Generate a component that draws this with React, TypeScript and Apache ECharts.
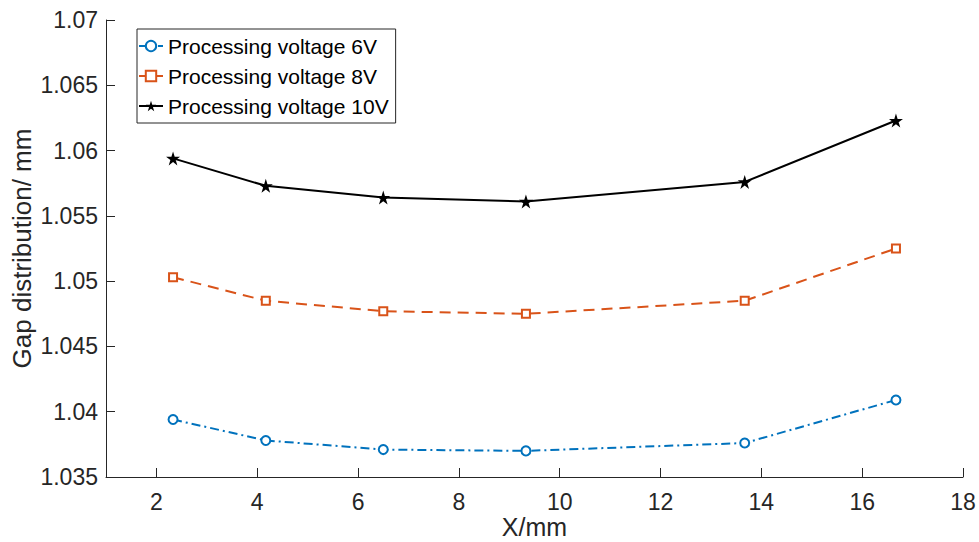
import React, { useEffect, useRef } from "react";
import * as echarts from "echarts";

const xValues = [2.33, 4.17, 6.5, 9.33, 13.67, 16.67];
const v6 = [1.0394, 1.0378, 1.0371, 1.037, 1.0376, 1.0409];
const v8 = [1.0503, 1.0485, 1.0477, 1.0475, 1.0485, 1.0525];
const v10 = [1.0594, 1.0573, 1.0564, 1.0561, 1.0576, 1.0623];
const seriesNames = ["Processing voltage 6V", "Processing voltage 8V", "Processing voltage 10V"];
const xTicks = [2, 4, 6, 8, 10, 12, 14, 16, 18];

const STAR =
  "path://M50 0 L61.23 34.55 L97.55 34.55 L68.16 55.9 L79.39 90.45 L50 69.1 L20.61 90.45 L31.84 55.9 L2.45 34.55 L38.77 34.55 Z";

const FONT = "'Liberation Sans', Arial, Helvetica, sans-serif";
const AX = "#262626";

export default function App() {
  const ref = useRef<HTMLDivElement>(null);
  useEffect(() => {
    if (!ref.current) return;
    const chart = echarts.init(ref.current, undefined, { renderer: "svg" });
    const pair = (ys: number[]) => xValues.map((x, i) => [x, ys[i]]);
    chart.setOption({
      animation: false,
      backgroundColor: "#ffffff",
      textStyle: { fontFamily: FONT },
      grid: { left: 106, right: 16, top: 20, bottom: 65, containLabel: false, outerBoundsMode: "none" },
      legend: {
        orient: "vertical",
        left: 137,
        top: 29,
        padding: [6, 7, 6, 1],
        itemGap: 8,
        itemWidth: 24,
        itemHeight: 13,
        itemTextGap: 3,
        borderColor: AX,
        borderWidth: 1,
        backgroundColor: "#ffffff",
        textStyle: { fontSize: 21, color: "#000000", fontFamily: FONT, lineHeight: 22 },
        data: seriesNames,
      },
      xAxis: {
        type: "value",
        min: 1,
        max: 18,
        name: "X/mm",
        nameLocation: "middle",
        nameGap: 37,
        nameMoveOverlap: false,
        nameTextStyle: { fontSize: 25, color: AX, fontFamily: FONT, lineHeight: 26 },
        axisLine: { show: true, lineStyle: { color: AX, width: 1 } },
        axisTick: { show: true, inside: true, length: 9, lineStyle: { color: AX }, customValues: xTicks },
        axisLabel: { fontSize: 23, color: AX, margin: 13, fontFamily: FONT, customValues: xTicks },
        splitLine: { show: false },
      },
      yAxis: {
        type: "value",
        min: 1.035,
        max: 1.07,
        interval: 0.005,
        name: "Gap distribution/ mm",
        nameLocation: "middle",
        nameGap: 71,
        nameMoveOverlap: false,
        nameTextStyle: { fontSize: 26, color: AX, fontFamily: FONT },
        axisLine: { show: true, lineStyle: { color: AX, width: 1 } },
        axisTick: { show: true, inside: true, length: 9, lineStyle: { color: AX } },
        axisLabel: {
          fontSize: 23,
          color: AX,
          margin: 8,
          fontFamily: FONT,
          formatter: (v: number) => String(parseFloat(v.toFixed(4))),
        },
        splitLine: { show: false },
      },
      series: [
        {
          name: seriesNames[0],
          type: "line",
          data: pair(v6),
          symbol: "emptyCircle",
          symbolSize: 9,
          lineStyle: { color: "#0072BD", width: 2, type: [9, 4, 2, 4] },
          itemStyle: { color: "#0072BD", borderWidth: 2 },
        },
        {
          name: seriesNames[1],
          type: "line",
          data: pair(v8),
          symbol: "emptyRect",
          symbolSize: 8,
          lineStyle: { color: "#D95319", width: 2, type: [11, 7] },
          itemStyle: { color: "#D95319", borderWidth: 2 },
        },
        {
          name: seriesNames[2],
          type: "line",
          data: pair(v10),
          symbol: STAR,
          symbolSize: 14,
          lineStyle: { color: "#000000", width: 2 },
          itemStyle: { color: "#000000" },
        },
      ],
    });
    return () => chart.dispose();
  }, []);
  return <div ref={ref} style={{ width: 979, height: 542, position: "absolute", left: 0, top: 0 }} />;
}
